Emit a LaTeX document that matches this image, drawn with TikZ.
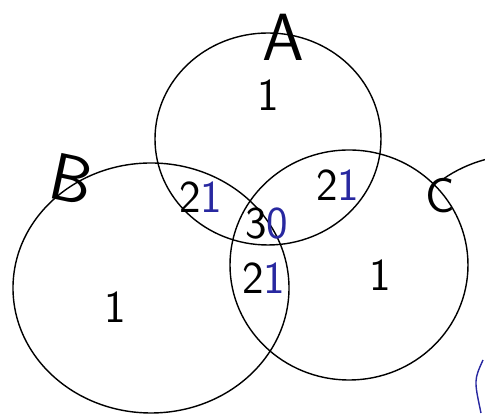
\documentclass[tikz,border=0pt]{standalone}
\usepackage{tikz}
\usetikzlibrary{positioning}
\usepackage{xcolor}
\definecolor{penblue}{RGB}{40,40,160}

\begin{document}
\begin{tikzpicture}[x=0.02cm, y=0.02cm,
    ring/.style={draw=black, line width=0.8pt},
    setlab/.style={font=\sffamily\fontsize{38}{38}\selectfont, inner sep=0pt},
    count/.style={font=\sffamily\fontsize{26}{26}\selectfont, inner sep=0pt}
]
    \useasboundingbox (0,0) rectangle (485,415);

    % the three sets
    \draw[ring] (268,276) ellipse [x radius=113, y radius=106];
    \draw[ring] (151,127) ellipse [x radius=138, y radius=125];
    \draw[ring] (349,150) ellipse [x radius=119, y radius=115];
    % stray strokes at the right edge
    \draw[ring] (520,125) ++(125:135) arc [start angle=125, end angle=105, radius=135];
    \draw[line width=0.8pt, penblue] (483,55) .. controls (474,35) .. (481,2);

    \node[setlab] (labA) at (283,378) {A};
    \node[setlab, rotate=-12] (labB) at (72,236) {B};
    \node[setlab, font=\sffamily\fontsize{28}{28}\selectfont] (labC) at (440,219) {C};

    \node[count] (onlyA) at (268,320) {1};
    \node[count] (onlyB) at (115,108) {1};
    \node[count] (onlyC) at (380,140) {1};
    \node[count] (AB)  at (201,218) {2\textcolor{penblue}{1}};
    \node[count] (AC)  at (338,230) {2\textcolor{penblue}{1}};
    \node[count] (ABC) at (267,191) {3\textcolor{penblue}{0}};
    \node[count] (BC)  at (264,137) {2\textcolor{penblue}{1}};
\end{tikzpicture}
\end{document}
